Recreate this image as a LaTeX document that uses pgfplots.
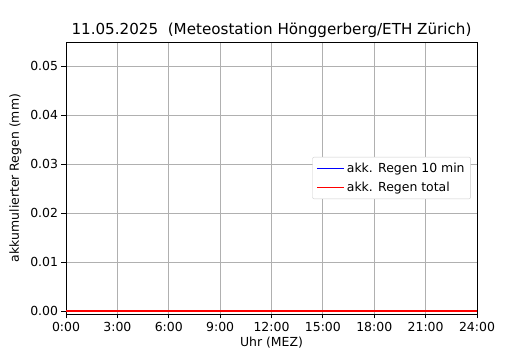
\documentclass[border=0pt]{standalone}
\usepackage{fontspec}
\setmainfont{DejaVu Sans}
\usepackage{pgfplots}
\pgfplotsset{compat=1.18}
\definecolor{mplred}{rgb}{1,0,0}
\definecolor{mplblue}{rgb}{0,0,1}
\begin{document}
\begin{tikzpicture}
\useasboundingbox (0bp,0bp) rectangle (530bp,350bp);
\begin{axis}[
  at={(66bp,36bp)}, anchor=south west,
  scale only axis, width=411bp, height=272bp,
  xmin=0, xmax=24, ymin=-0.00055, ymax=0.0549,
  xtick={0,3,6,9,12,15,18,21,24},
  xticklabels={0:00,3:00,6:00,9:00,12:00,15:00,18:00,21:00,24:00},
  ytick={0,0.01,0.02,0.03,0.04,0.05},
  scaled y ticks=false,
  yticklabel style={/pgf/number format/fixed, /pgf/number format/fixed zerofill, /pgf/number format/precision=2},
  /pgf/number format/assume math mode=true,
  tick label style={font=\fontsize{12.5}{14}\selectfont, black},
  label style={font=\fontsize{12.5}{14}\selectfont},
  title style={font=\fontsize{15.2}{18}\selectfont, yshift=-5bp},
  title={11.05.2025\ \ (Meteostation Hönggerberg/ETH Zürich)},
  xlabel={Uhr (MEZ)}, ylabel={akkumulierter Regen (mm)},
  xlabel style={yshift=1bp}, ylabel style={yshift=2bp},
  grid=major, major grid style={color=black!31, line width=0.9bp},
  tick align=outside, tickpos=left, major tick length=4.5bp,
  every tick/.style={black, line width=0.9bp},
  axis line style={line width=0.9bp},
  legend style={at={(rel axis cs:0.985,0.5)}, anchor=east, draw=black!20, rounded corners=2bp,
    font=\fontsize{12.5}{15}\selectfont, row sep=4bp, inner sep=4bp,
    /tikz/every even column/.append style={column sep=4bp}},
  legend image code/.code={\draw[#1, line width=1.4bp] (0bp,0bp) -- (27bp,0bp);},
  legend cell align=left,
]
\addplot[draw=mplblue, line width=2bp] coordinates {(0,0) (6,0) (12,0) (18,0) (24,0)};
\addlegendentry{akk. Regen 10 min}
\addplot[draw=mplred, line width=2bp] coordinates {(0,0) (6,0) (12,0) (18,0) (24,0)};
\addlegendentry{akk. Regen total}
\end{axis}
\end{tikzpicture}
\end{document}
